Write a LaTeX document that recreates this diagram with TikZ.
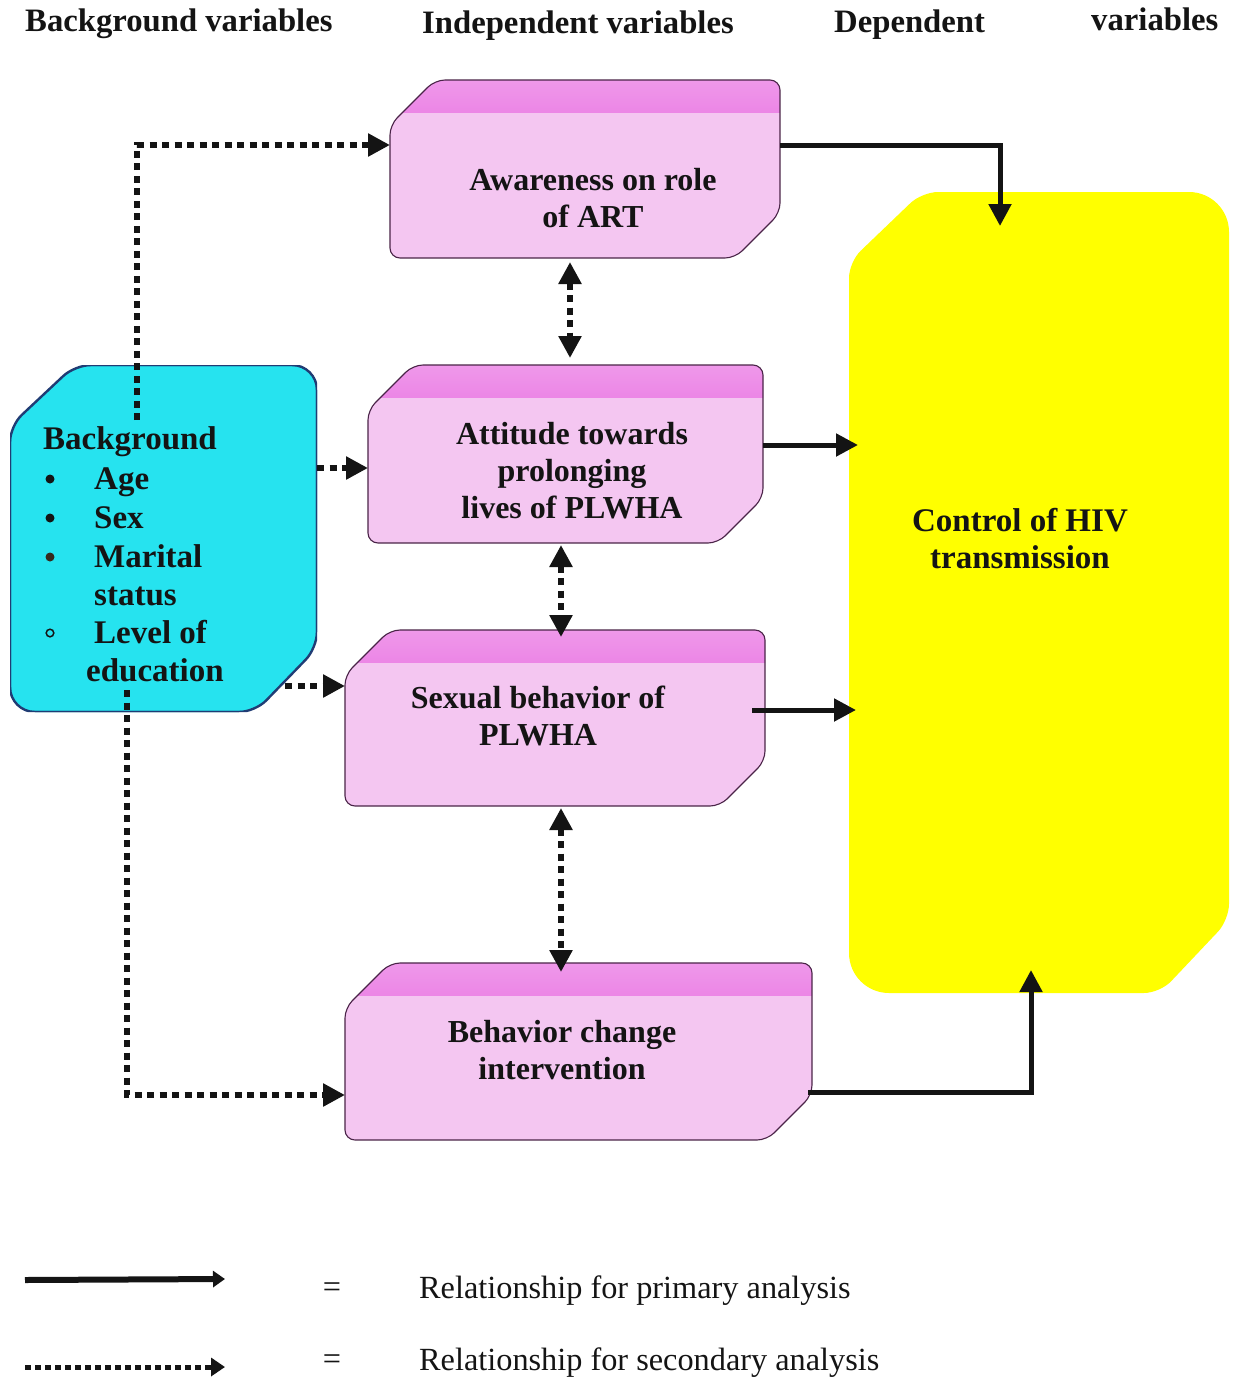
\documentclass[tikz,border=0pt]{standalone}
\usepackage{fontspec}
\setmainfont{Liberation Serif}
\usetikzlibrary{arrows.meta,calc}
\definecolor{pinkbody}{HTML}{F4C6F1}
\definecolor{pinktop}{HTML}{EC86E6}
\definecolor{pinkline}{HTML}{4A2448}
\definecolor{cyanbox}{HTML}{26E3EF}
\definecolor{cyanline}{HTML}{203C74}
\definecolor{yelbox}{HTML}{FFFF00}
\definecolor{ink}{HTML}{141414}

\newcommand\pinkbox[4]{%
  \begin{scope}
    \clip[rounded corners=10pt] (#1,{#2+45}) -- ({#1+45},#2) -- (#3,#2) -- (#3,{#4-45}) -- ({#3-45},#4) -- (#1,#4) -- cycle;
    \fill[pinkbody] (#1,#2) rectangle (#3,#4);
    \shade[top color=pinktop!85, bottom color=pinktop] (#1,#2) rectangle (#3,{#2+32});
  \end{scope}
  \draw[pinkline, line width=1.1pt, rounded corners=10pt] (#1,{#2+45}) -- ({#1+45},#2) -- (#3,#2) -- (#3,{#4-45}) -- ({#3-45},#4) -- (#1,#4) -- cycle;}

\tikzset{
  tipbig/.tip={Triangle[length=22pt,width=22pt]},
  prim/.style={draw=ink, line width=5pt, -tipbig},
  sec/.style={draw=ink, line width=6pt, dash pattern=on 7pt off 5.5pt, -tipbig},
  dbl/.style={draw=ink, line width=6pt, dash pattern=on 7pt off 5.5pt, tipbig-tipbig},
  hdr/.style={font=\fontsize{32.7}{38}\selectfont\bfseries, text=ink, inner sep=0pt, anchor=base west},
  boxtxt/.style={font=\fontsize{32}{37}\selectfont\bfseries, text=ink, align=center, inner sep=0pt},
  bgtxt/.style={font=\fontsize{33}{39}\selectfont\bfseries, text=ink, inner sep=0pt, anchor=base west},
  legtxt/.style={font=\fontsize{32.3}{38}\selectfont, text=ink, inner sep=0pt, anchor=base west},
  area/.style={inner sep=0pt, outer sep=0pt, draw=none, rectangle},
}

\begin{document}
\begin{tikzpicture}[x=1pt, y=-1pt]
\useasboundingbox (0,0) rectangle (1238,1379);
\fill[white] (0,0) rectangle (1238,1379);

% headers
\node[hdr] (h1) at (25,31) {Background variables};
\node[hdr] (h2) at (422,33) {Independent variables};
\node[hdr] (h3) at (834,32) {Dependent};
\node[hdr] (h4) at (1091,30) {variables};

% shapes
\pinkbox{390}{80}{780}{258}
\pinkbox{368}{365}{763}{543}
\pinkbox{345}{630}{765}{806}
\pinkbox{345}{963}{812}{1140}

% cyan box: intersection of a chamfered polygon and a rounded rectangle
\begin{scope}
  \clip[rounded corners=25pt] (10,365) rectangle (317,712);
  \fill[cyanbox, rounded corners=16pt] (10,426) -- (75,365) -- (317,365) -- (317,648) -- (255,712) -- (10,712) -- cycle;
  \draw[cyanline, line width=2.4pt, rounded corners=16pt] (10,426) -- (75,365) -- (317,365) -- (317,648) -- (255,712) -- (10,712) -- cycle;
\end{scope}
\begin{scope}
  \clip[rounded corners=16pt] (10,426) -- (75,365) -- (317,365) -- (317,648) -- (255,712) -- (10,712) -- cycle;
  \draw[cyanline, line width=2.4pt, rounded corners=25pt] (10,365) rectangle (317,712);
\end{scope}

% yellow box
\begin{scope}
  \clip[rounded corners=40pt] (849,192) rectangle (1229,993);
  \fill[yelbox, rounded corners=16pt] (849,262) -- (922,192) -- (1229,192) -- (1229,920) -- (1160,993) -- (849,993) -- cycle;
\end{scope}

% named areas
\node[area, minimum width=390pt, minimum height=178pt] (aw) at (585,169) {};
\node[area, minimum width=395pt, minimum height=178pt] (at) at (565.5,454) {};
\node[area, minimum width=420pt, minimum height=176pt] (sb) at (555,718) {};
\node[area, minimum width=467pt, minimum height=177pt] (bc) at (578.5,1051.5) {};
\node[area, minimum width=307pt, minimum height=347pt] (bg) at (163.5,538.5) {};
\node[area, minimum width=380pt, minimum height=801pt] (hiv) at (1039,592.5) {};

% texts
\node[boxtxt] (awT) at (593,198) {Awareness on role\\of ART};
\node[boxtxt] (atT) at (572,471) {Attitude towards\\prolonging\\lives of PLWHA};
\node[boxtxt] (sbT) at (538,716) {Sexual behavior of\\PLWHA};
\node[boxtxt] (bcT) at (562,1050) {Behavior change\\intervention};
\node[boxtxt, font=\fontsize{33}{37}\selectfont\bfseries] (hivT) at (1020,539) {Control of HIV\\transmission};

\node[bgtxt] (bg0) at (43,449) {Background};
\node[bgtxt] (bg1) at (94,489) {Age};
\node[bgtxt] (bg2) at (94,528) {Sex};
\node[bgtxt] (bg3) at (94,567) {Marital};
\node[bgtxt] (bg4) at (94,605) {status};
\node[bgtxt] (bg5) at (94,643) {Level of};
\node[bgtxt] (bg6) at (86,681) {education};
\fill[ink] (50,479) circle (4.5pt);
\fill[ink] (50,518) circle (4.5pt);
\fill[ink!80!brown] (50,557) circle (4.5pt);
\draw[ink, line width=1.5pt] (50,633) circle (3.8pt);

% coordinates
\coordinate (bgTop) at (137,420);
\coordinate (bgBot) at (127,690);
\coordinate (bgSb) at (285,686);
\coordinate (atL) at ([yshift=-14pt]at.west);
\coordinate (sbL) at ([yshift=32pt]sb.west);
\coordinate (hivTop) at (1000,226);
\coordinate (hivA) at (858,445);
\coordinate (hivB) at (856,710);
\coordinate (hivBot) at (1031,970);

% primary arrows
\draw[prim] ([yshift=24pt]aw.east) -| (hivTop);
\draw[prim] (at.east |- hivA) -- (hivA);
\draw[prim] ([xshift=-13pt]sb.east |- hivB) -- (hivB);
\draw[prim] ([yshift=-40.5pt,xshift=-4pt]bc.east) -| (hivBot);

% secondary arrows
\draw[sec] (bgTop) |- ([yshift=24pt]aw.west);
\draw[sec] (bg.east |- atL) -- (atL);
\draw[sec] (bgSb) -- (sbL);
\draw[sec] (bgBot) |- ([yshift=-43.5pt]bc.west);

% double-headed dotted
\draw[dbl] ([xshift=-15pt,yshift=-4pt]aw.south) -- ([xshift=4.5pt,yshift=7pt]at.north);
\draw[dbl] ([xshift=-4.5pt,yshift=-2pt]at.south) -- ([xshift=6pt,yshift=-7pt]sb.north);
\draw[dbl] ([xshift=6pt,yshift=-2pt]sb.south) -- ([xshift=-17.5pt,yshift=-9pt]bc.north);

% legend
\coordinate (l1s) at (25,1280);
\coordinate (l1e) at (225,1279);
\coordinate (l2s) at (25,1367);
\coordinate (l2e) at (225,1367);
\draw[draw=ink, line width=6pt, -{Triangle[length=12pt,width=16pt]}] (l1s) -- (l1e);
\draw[draw=ink, line width=5pt, dash pattern=on 6pt off 4pt, -{Triangle[length=14pt,width=18pt]}] (l2s) -- (l2e);
\node[legtxt, anchor=center] (eq1) at (332,1290) {=};
\node[legtxt, anchor=center] (eq2) at (332,1362) {=};
\node[legtxt] (lg1) at (419,1298) {Relationship for primary analysis};
\node[legtxt] (lg2) at (419,1370) {Relationship for secondary analysis};
\end{tikzpicture}
\end{document}
